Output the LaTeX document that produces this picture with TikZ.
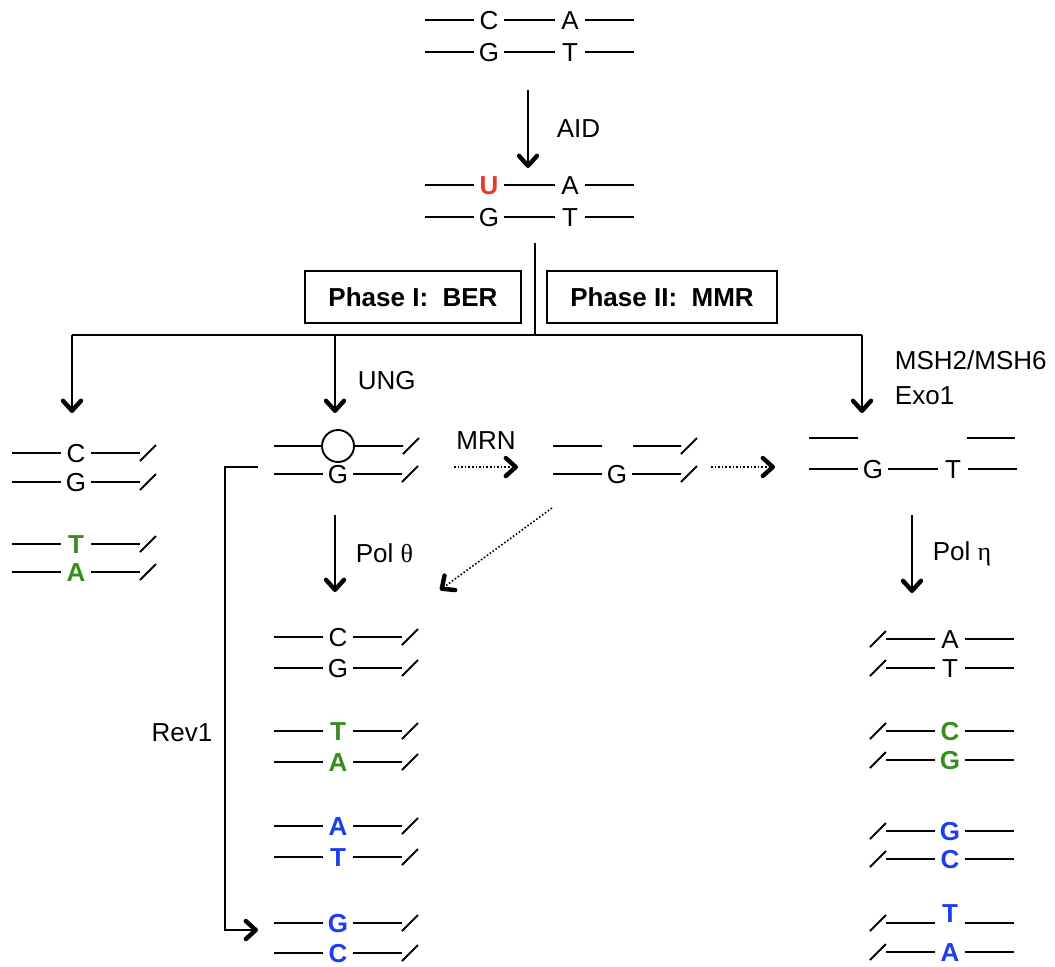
\documentclass[tikz,border=0pt]{standalone}
\usepackage{fontspec}
\setmainfont{Liberation Sans}
\newfontfamily\greekfont{Liberation Serif}
\usepackage{tikz}
\usetikzlibrary{positioning, calc, arrows.meta}
\definecolor{uracil}{RGB}{232,58,44}
\definecolor{transit}{RGB}{58,140,30}
\definecolor{transv}{RGB}{28,62,240}

\newcommand{\bp}[4][]{\node[nt,#1] (#2) at (#3) {#4};
  \draw ($(#3)+(-64,0)$) -- ($(#3)+(-15,0)$) ($(#3)+(15,0)$) -- ($(#3)+(64,0)$);}
\newcommand{\bpr}[4][]{\bp[#1]{#2}{#3}{#4}\draw ($(#3)+(64,8)$) -- ($(#3)+(80,-8)$);}
\newcommand{\bpl}[4][]{\bp[#1]{#2}{#3}{#4}\draw ($(#3)+(-80,8)$) -- ($(#3)+(-64,-8)$);}

\begin{document}
\begin{tikzpicture}[x=0.5pt, y=-0.5pt, line width=0.95pt,
    font=\fontsize{13}{15}\selectfont,
    nt/.style={inner sep=0pt, text height=9.3pt, text depth=0pt, fill=white},
    ts/.style={nt, font=\fontsize{13}{15}\selectfont\bfseries, text=transit},
    tv/.style={nt, font=\fontsize{13}{15}\selectfont\bfseries, text=transv},
    arr/.style={line width=0.8pt, -{Straight Barb[length=5pt, width=9pt, line width=2.2pt, round]}},
    dots/.style={arr, densely dotted},
    phase/.style={draw, line width=0.8pt, font=\fontsize{13}{15}\selectfont\bfseries, minimum height=26pt},
    lbl/.style={inner sep=0pt}]
  \useasboundingbox (0,0) rectangle (1055,966);

  % cytidine deamination
  \bp{c0}{489,20}{C} \bp{a0}{570,20}{A}
  \bp{g0}{489,52}{G} \bp{t0}{570,52}{T}
  \coordinate (aid1) at (528,90);
  \coordinate (aid2) at (528,168);
  \draw[arr] (aid1) -- (aid2) node[lbl, midway, right=14pt] {AID};
  \bp[font=\fontsize{13}{15}\selectfont\bfseries, text=uracil]{u1}{489,185}{U} \bp{a1}{570,185}{A}
  \bp{g1}{489,217}{G} \bp{t1}{570,217}{T}

  % two phases
  \node[phase, minimum width=108pt] (ber) at (413,297) {Phase I:\ \ BER};
  \node[phase, minimum width=115pt] (mmr) at (662,297) {Phase II:\ \ MMR};
  \coordinate (split) at (535,243);
  \coordinate (hub) at (535,335);
  \coordinate (hubL) at (72,335);
  \coordinate (hubM) at (335,335);
  \coordinate (hubR) at (862,335);
  \coordinate (tipL) at (72,413);
  \coordinate (tipM) at (335,413);
  \coordinate (tipR) at (862,413);
  \draw (split) -- (hub);
  \draw (hubL) -- (hubR);
  \draw[arr] (hubL) -- (tipL);
  \draw[arr] (hubM) -- (tipM);
  \draw[arr] (hubR) -- (tipR);
  \node[lbl, anchor=west] (ung) at (357,381) {UNG};
  \node[lbl, anchor=west] (msh) at (894,360) {MSH2/MSH6};
  \node[lbl, anchor=west] (exo) at (894,396) {Exo1};

  % left column
  \bpr{cL}{76,453}{C}
  \bpr{gL}{76,482}{G}
  \bpr[ts]{tL}{76,544}{T}
  \bpr[ts]{aL}{76,572}{A}

  % abasic site
  \node[draw, circle, minimum size=16pt, inner sep=0pt] (ap) at (338,446) {};
  \draw (274,446) -- (ap.west) (ap.east) -- (403,446) (403,454) -- (419,438);
  \bpr{gM}{338,474}{G}

  % MRN nick
  \node[lbl] (mrn) at (486,441) {MRN};
  \coordinate (m1) at (454,467);
  \coordinate (m2) at (518,467);
  \draw[dots] (m1) -- (m2);
  \draw (553,446) -- (602,446) (633,446) -- (681,446) (681,454) -- (697,438);
  \bpr{gN}{617,474}{G}
  \coordinate (m3) at (711,467);
  \coordinate (m4) at (775,467);
  \draw[dots] (m3) -- (m4);
  \coordinate (d1) at (552,508);
  \coordinate (d2) at (440,590);
  \draw[dots] (d1) -- (d2);

  % mismatch gap
  \draw (809,438) -- (858,438) (967,438) -- (1015,438);
  \bp{gR}{873,469}{G} \bp{tR}{953,469}{T}

  % polymerases
  \coordinate (th1) at (335,515);
  \coordinate (th2) at (335,592);
  \draw[arr] (th1) -- (th2) node[lbl, midway, right=10pt] {Pol {\greekfont θ}};
  \coordinate (et1) at (912,515);
  \coordinate (et2) at (912,593);
  \draw[arr] (et1) -- (et2) node[lbl, midway, right=10pt] {Pol {\greekfont η}};

  % middle column
  \bpr{cM}{338,637}{C}
  \bpr{gM2}{338,668}{G}
  \bpr[ts]{tM}{338,731}{T}
  \bpr[ts]{aM}{338,762}{A}
  \bpr[tv]{aM2}{338,826}{A}
  \bpr[tv]{tM2}{338,857}{T}
  \bpr[tv]{gM3}{338,923}{G}
  \bpr[tv]{cM2}{338,953}{C}

  % Rev1
  \coordinate (r1) at (258,467);
  \coordinate (r2) at (225,467);
  \coordinate (r3) at (258,930);
  \draw[arr] (r1) -- (r2) |- (r3);
  \node[lbl] (rev) at (182,733) {Rev1};

  % right column
  \bpl{aR}{950,639}{A}
  \bpl{tR2}{950,668}{T}
  \bpl[ts]{cR}{950,731}{C}
  \bpl[ts]{gR2}{950,760}{G}
  \bpl[tv]{gR3}{950,831}{G}
  \bpl[tv]{cR2}{950,859}{C}
  \bpl[tv, yshift=5pt, fill=none]{tR3}{950,923}{T}
  \bpl[tv]{aR2}{950,952}{A}
\end{tikzpicture}
\end{document}
